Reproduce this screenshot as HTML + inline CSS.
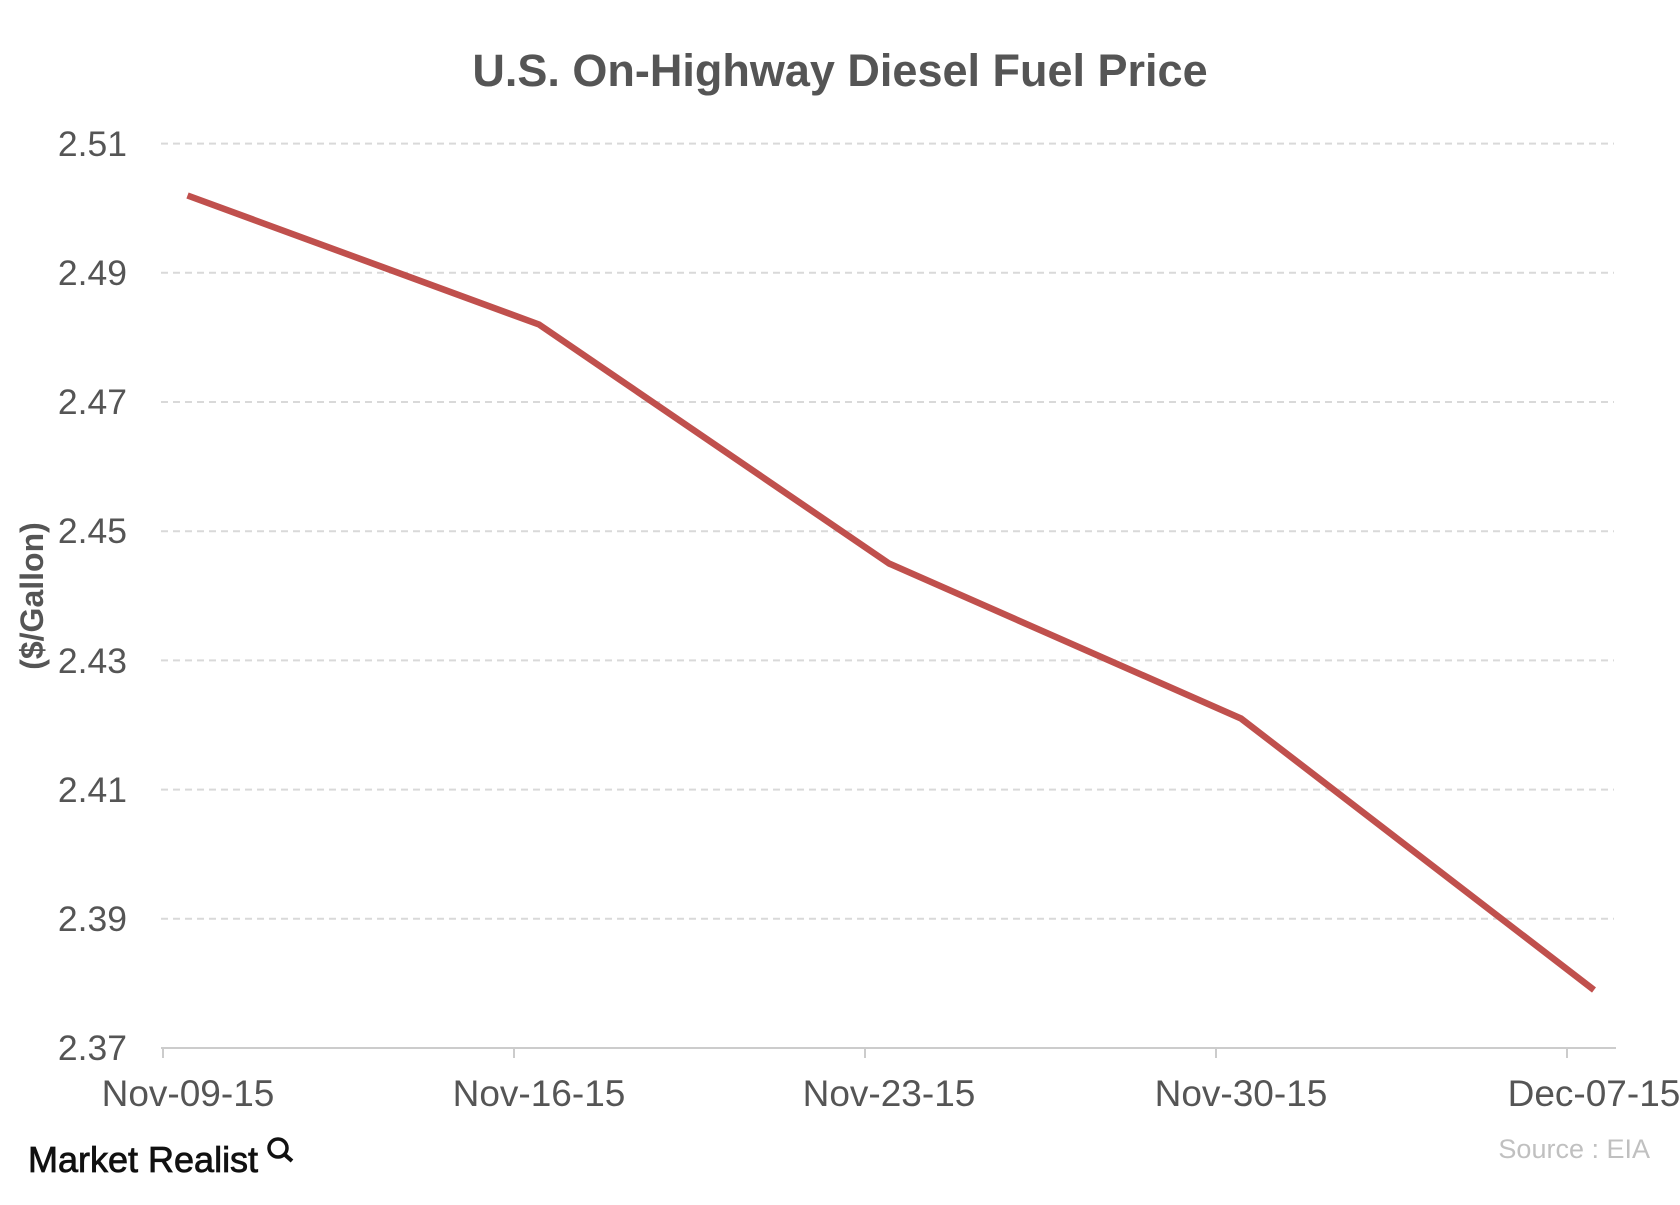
<!DOCTYPE html>
<html><head><style>body{margin:0;background:#fff}</style></head><body>
<svg width="1680" height="1200" xmlns="http://www.w3.org/2000/svg" font-family="Liberation Sans, sans-serif">
<rect width="1680" height="1200" fill="#fff"/>
<text x="840" y="86" text-anchor="middle" font-size="45" font-weight="bold" fill="#555">U.S. On-Highway Diesel Fuel Price</text>
<g stroke="#d9d9d9" stroke-width="2" stroke-dasharray="7,5">
<line x1="161" x2="1614" y1="143.6" y2="143.6"/>
<line x1="161" x2="1614" y1="272.8" y2="272.8"/>
<line x1="161" x2="1614" y1="402" y2="402"/>
<line x1="161" x2="1614" y1="531.2" y2="531.2"/>
<line x1="161" x2="1614" y1="660.4" y2="660.4"/>
<line x1="161" x2="1614" y1="789.6" y2="789.6"/>
<line x1="161" x2="1614" y1="918.8" y2="918.8"/>
</g>
<line x1="161" x2="1616" y1="1048" y2="1048" stroke="#ccc" stroke-width="2"/>
<g stroke="#ccc" stroke-width="2">
<line x1="163" x2="163" y1="1048" y2="1058"/><line x1="514" x2="514" y1="1048" y2="1058"/>
<line x1="865" x2="865" y1="1048" y2="1058"/><line x1="1216" x2="1216" y1="1048" y2="1058"/>
<line x1="1567" x2="1567" y1="1048" y2="1058"/>
</g>
<g font-size="35.5" fill="#555" text-anchor="end">
<text x="127" y="156">2.51</text><text x="127" y="285">2.49</text><text x="127" y="414">2.47</text>
<text x="127" y="543">2.45</text><text x="127" y="673">2.43</text><text x="127" y="802">2.41</text>
<text x="127" y="931">2.39</text><text x="127" y="1060">2.37</text>
</g>
<g font-size="37" fill="#555" text-anchor="middle">
<text x="188" y="1106">Nov-09-15</text><text x="539" y="1106">Nov-16-15</text>
<text x="889" y="1106">Nov-23-15</text><text x="1241" y="1106">Nov-30-15</text>
<text x="1594" y="1106">Dec-07-15</text>
</g>
<text transform="translate(43,596) rotate(-90)" text-anchor="middle" font-size="32" font-weight="bold" fill="#555">($/Gallon)</text>
<polyline points="187.5,195.5 539,324.5 889,563.5 1241,718.5 1594,990" fill="none" stroke="#c0504d" stroke-width="6.5" stroke-linejoin="round"/>
<text x="1650" y="1158" text-anchor="end" font-size="27" fill="#c0c0c0">Source : EIA</text>
<text x="28" y="1172" font-size="36" fill="#111" stroke="#111" stroke-width="0.8">Market Realist</text>
<circle cx="278" cy="1148" r="9" fill="none" stroke="#111" stroke-width="3.5"/>
<line x1="284" y1="1154" x2="292" y2="1161" stroke="#111" stroke-width="4"/>
</svg>
</body></html>
